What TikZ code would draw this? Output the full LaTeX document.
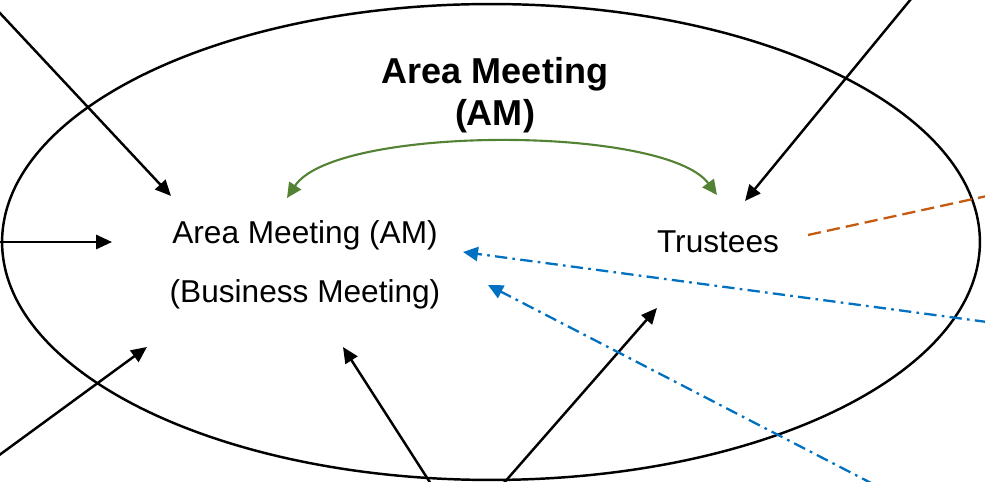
\documentclass[tikz,border=0pt]{standalone}
\usepackage{fontspec}
\setmainfont{Liberation Sans}
\usetikzlibrary{arrows.meta}
\definecolor{amgreen}{HTML}{548235}
\definecolor{amorange}{HTML}{C55A11}
\definecolor{amblue}{HTML}{0070C0}
\tikzset{
  inarrow/.style={line width=1.4pt, -{Triangle[length=9pt,width=8pt]}},
  linkarrow/.style={line width=1.2pt, amgreen, {Triangle[length=8.5pt,width=8pt]}-{Triangle[length=8.5pt,width=8pt]}},
  trustline/.style={line width=1.3pt, amorange, dash pattern=on 7.5pt off 3.5pt},
  advarrow/.style={line width=1.3pt, amblue, dash pattern=on 7pt off 3pt on 1.5pt off 3pt, -{Triangle[length=8.5pt,width=8pt]}},
  bodytext/.style={inner sep=0pt, font=\fontsize{18}{22}\selectfont}
}
\begin{document}
\begin{tikzpicture}[x=0.02cm, y=-0.02cm]
\useasboundingbox (0,0) rectangle (985,482);
\draw[line width=1.4pt] (491,242) ellipse [x radius=9.78cm, y radius=4.76cm];
\node[align=center, inner sep=0pt, font=\fontsize{20.5}{24}\selectfont\bfseries] (title) at (495,95){Area Meeting\\(AM)};
\node[bodytext, anchor=base] (am) at (305,244){Area Meeting (AM)};
\node[bodytext, anchor=base] (bm) at (305,303){(Business Meeting)};
\node[bodytext, anchor=base] (tr) at (718,253){Trustees};
\coordinate (s1) at (-2,11);
\coordinate (t1) at (171,196);
\coordinate (s2) at (-2,242);
\coordinate (t2) at (112,242);
\coordinate (s3) at (-2,456);
\coordinate (t3) at (147,347);
\coordinate (s4) at (431,484);
\coordinate (t4) at (343,347);
\coordinate (s5) at (503,484);
\coordinate (t5) at (657,308);
\coordinate (s6) at (911,-1);
\coordinate (t6) at (745,201);
\coordinate (gl) at (287,198);
\coordinate (gr) at (717,195);
\coordinate (os) at (808,235);
\coordinate (oe) at (987,196);
\coordinate (b1s) at (987,322);
\coordinate (b1t) at (463,252);
\coordinate (b2s) at (873,484);
\coordinate (b2t) at (488,285);
\draw[inarrow](s1) -- (t1);
\draw[inarrow](s2) -- (t2);
\draw[inarrow](s3) -- (t3);
\draw[inarrow](s4) -- (t4);
\draw[inarrow](s5) -- (t5);
\draw[inarrow](s6) -- (t6);
\draw[linkarrow](gl) .. controls (335,125) and (665,125) .. (gr);
\draw[trustline](os) -- (oe);
\draw[advarrow](b1s) -- (b1t);
\draw[advarrow](b2s) -- (b2t);
\end{tikzpicture}
\end{document}
